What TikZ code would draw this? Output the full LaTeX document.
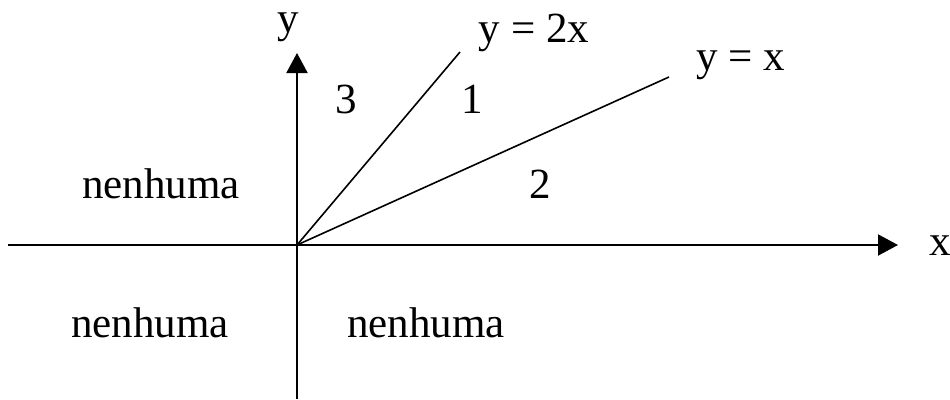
\documentclass[tikz,border=0pt]{standalone}
\usepackage{fontspec}
\setmainfont{Liberation Serif}
\usetikzlibrary{arrows.meta}
\begin{document}
\begin{tikzpicture}[x=1pt,y=-1pt,
  lbl/.style={anchor=base,inner sep=0pt,font=\fontsize{43}{50}\selectfont},
  axis/.style={line width=2pt,-{Triangle[length=20pt,width=21pt]}},
  ray/.style={line width=1.6pt}]
\useasboundingbox (0,0) rectangle (950,399);
\coordinate (O) at (297,245);
\coordinate (xs) at (8,245);
\coordinate (xe) at (898,245);
\coordinate (ys) at (297,399);
\coordinate (ye) at (297,53);
\coordinate (r2) at (460,52);
\coordinate (r1) at (669,77);
\draw[axis] (xs) -- (xe);
\draw[axis] (ys) -- (ye);
\draw[ray] (O) -- (r2);
\draw[ray] (O) -- (r1);
\node[lbl] (ylab) at (288,32) {y};
\node[lbl] (xlab) at (940,255) {x};
\node[lbl] (l2x) at (534,42) {y = 2x};
\node[lbl] (lx) at (741,70) {y = x};
\node[lbl] (r3) at (346,113) {3};
\node[lbl] (rone) at (472,113) {1};
\node[lbl] (rtwo) at (540,198) {2};
\node[lbl] (n1) at (161,198) {nenhuma};
\node[lbl] (n2) at (150,337) {nenhuma};
\node[lbl] (n3) at (426,337) {nenhuma};
\end{tikzpicture}
\end{document}
